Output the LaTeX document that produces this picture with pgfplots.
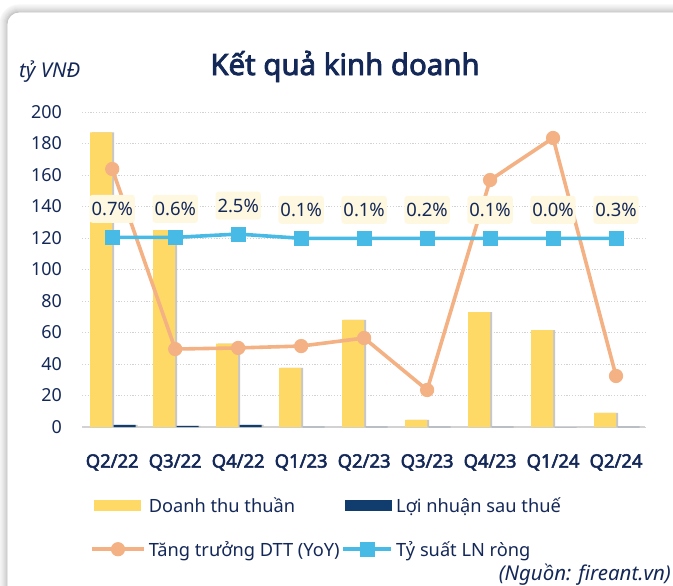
\documentclass[border=0pt]{standalone}
\usepackage{fontspec}
\setmainfont{Noto Sans}[AutoFakeBold=2.8]
\usepackage{pgfplots}
\pgfplotsset{compat=1.18}
\definecolor{yel}{RGB}{255,217,102}
\definecolor{nav}{RGB}{17,60,110}
\definecolor{ora}{RGB}{244,177,131}
\definecolor{blu}{RGB}{72,186,230}
\definecolor{lab}{RGB}{255,248,225}
\definecolor{txt}{RGB}{20,40,88}
\definecolor{gridg}{RGB}{210,210,210}
\pgfplotsset{
  lineleg/.style={legend image code/.code={\draw[mark repeat=2, mark phase=2, ##1] plot coordinates {(0bp,3bp) (26bp,3bp) (52bp,3bp)};}},
  lineleg2/.style={legend image code/.code={\draw[mark repeat=2, mark phase=2, ##1] plot coordinates {(0bp,3bp) (24bp,3bp) (48bp,3bp)};}},
  barleg/.style={legend image code/.code={\fill[#1] (2bp,-2.5bp) rectangle (49bp,8.5bp);}},
}
\begin{document}
\begin{tikzpicture}
\useasboundingbox (0bp,0bp) rectangle (673bp,-586bp);
\fill[white] (0bp,0bp) rectangle (673bp,-586bp);
\foreach \i/\c in {7/3,6/5,5/7,4/9,3/12,2/15,1/18,0/22} {
  \draw[black!\c, line width=1.2bp, rounded corners=12bp+\i*1bp] (7bp-\i*1bp,-700bp) -- (7bp-\i*1bp,-12bp+\i*1bp) -- (700bp,-12bp+\i*1bp);
}
\fill[white, rounded corners=12bp] (7.6bp,-700bp) -- (7.6bp,-12.6bp) -- (700bp,-12.6bp) -- (700bp,-700bp) -- cycle;
\begin{axis}[
  at={(82bp,-427bp)}, anchor=south west,
  scale only axis, width=563bp, height=315bp,
  xmin=-0.48, xmax=8.46, ymin=0, ymax=200,
  clip=false,
  axis x line*=bottom, axis y line*=left,
  x axis line style={gridg, line width=1.6bp, -},
  y axis line style={draw=none},
  major tick length=0pt,
  ytick={0,20,...,200},
  xtick={0,...,8},
  xticklabels={Q2/22,Q3/22,Q4/22,Q1/23,Q2/23,Q3/23,Q4/23,Q1/24,Q2/24},
  ymajorgrids,
  grid style={gridg, line width=0.9bp, dash pattern=on 1.2bp off 1.6bp},
  /pgf/number format/assume math mode=true,
  yticklabel style={font=\fontsize{18}{20}\selectfont, text=txt, anchor=east, inner sep=0pt, xshift=-20bp},
  xticklabel style={font=\bfseries\fontsize{18.5}{22}\selectfont, text=txt, anchor=north, inner sep=0pt, yshift=-27bp},
  legend columns=2,
  legend style={at={(0.0142,-0.2286)}, anchor=north west, draw=none, fill=none, inner sep=0pt,
    font=\fontsize{18.3}{22}\selectfont, text=txt,
    nodes={inner sep=0pt, text height=13bp, text depth=5bp},
    row sep=25bp,
    /tikz/every odd column/.append style={column sep=3bp},
    /tikz/every even column/.append style={column sep=2bp}},
  legend cell align=left,
]
% shadows
\addplot[ybar, bar width=22bp, bar shift=-9bp, fill=black!22, draw=none, forget plot]
  coordinates {(0,187)(1,125)(2,53)(3,37.5)(4,68)(5,4.5)(6,73)(7,61.5)(8,9)};
\addplot[ybar, bar width=22bp, bar shift=14.5bp, fill=black!22, draw=none, forget plot]
  coordinates {(0,1.3)(1,0.75)(2,1.3)};
% revenue
\addplot[ybar, bar width=22bp, bar shift=-11bp, fill=yel, draw=none, barleg=yel]
  coordinates {(0,187)(1,125)(2,53)(3,37.5)(4,68)(5,4.5)(6,73)(7,61.5)(8,9)};
\addlegendentry{Doanh thu thuần}
% profit
\addplot[ybar, bar width=22bp, bar shift=12.5bp, fill=nav, draw=none, barleg=nav]
  coordinates {(0,1.3)(1,0.75)(2,1.3)(3,0.04)(4,0.07)(5,0.01)(6,0.07)(7,0)(8,0.03)};
\addlegendentry{Lợi nhuận sau thuế}
% growth
\addplot[color=ora, line width=3.6bp, mark=*, mark size=6.6bp, mark options={solid, fill=ora, line width=1bp}, lineleg]
  coordinates {(0,163.8)(1,49.5)(2,50.2)(3,51.4)(4,56.5)(5,23.5)(6,156.8)(7,183.5)(8,32.4)};
\addlegendentry{Tăng trưởng DTT (YoY)}
% margin
\addplot[color=blu, line width=3.6bp, mark=square*, mark size=7bp, mark options={solid, fill=blu, line width=0.5bp},
  point meta=explicit symbolic, nodes near coords, nodes near coords align={center},
  every node near coord/.append style={fill=lab, rounded corners=3bp, inner xsep=2bp, inner ysep=6.5bp,
    text height=14bp, text depth=1bp, yshift=28.5bp, font=\fontsize{18.5}{22}\selectfont, text=txt},
  lineleg2]
  coordinates {(0,120.4)[0.7\%] (1,120.4)[0.6\%] (2,122.5)[2.5\%] (3,119.8)[0.1\%] (4,119.8)[0.1\%]
    (5,119.8)[0.2\%] (6,119.8)[0.1\%] (7,119.8)[0.0\%] (8,119.8)[0.3\%]};
\addlegendentry{Tỷ suất LN ròng}
\end{axis}
\node[anchor=base, text=txt, font=\bfseries\fontsize{29.5}{34}\selectfont, inner sep=0pt] at (345bp,-75bp) {Kết quả kinh doanh};
\node[anchor=base west, text=txt, font=\itshape\fontsize{20.5}{24}\selectfont, inner sep=0pt] at (19bp,-77bp) {tỷ VNĐ};
\node[anchor=base east, text=txt, font=\itshape\fontsize{20.5}{24}\selectfont, inner sep=0pt] at (671bp,-580bp) {(Nguồn: fireant.vn)};
\end{tikzpicture}
\end{document}
